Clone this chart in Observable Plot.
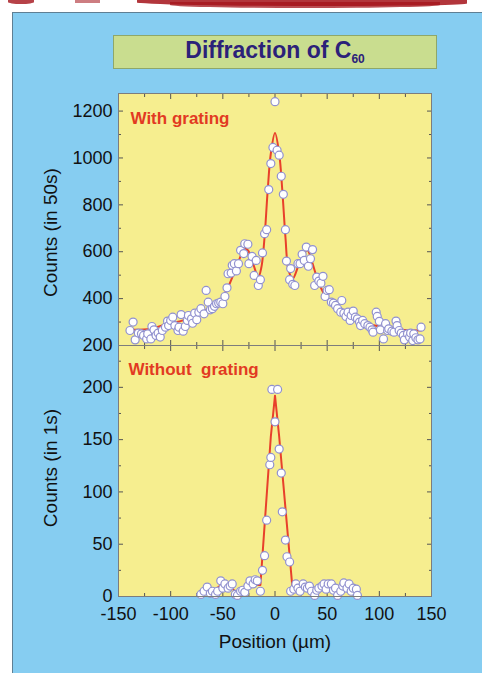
<!DOCTYPE html>
<html><head><meta charset="utf-8">
<script src="https://cdn.jsdelivr.net/npm/d3@7"></script>
<script src="https://cdn.jsdelivr.net/npm/@observablehq/plot@0.6"></script>
<style>
html,body{margin:0;padding:0;background:#fff;}
#root{position:relative;width:482px;height:673px;overflow:hidden;font-family:"Liberation Sans",Arial,sans-serif;}
#bg{position:absolute;left:12px;top:12px;width:480px;height:680px;background:#86cdf1;border-left:1px solid #5f7f93;border-top:1px solid #5f7f93;}
#title{position:absolute;left:113px;top:35px;width:322px;height:28px;padding-bottom:4px;line-height:28px;background:#c9dd8f;border:1px solid #8ea76a;text-align:center;font-weight:bold;font-size:23px;color:#2b2179;}
#title span{font-size:12px;vertical-align:-5px;}
.scr{position:absolute;background:#a5141b;filter:blur(0.7px);}
.plot{position:absolute;left:0;}
</style></head>
<body><div id="root">
<div class="scr" style="left:8px;top:0;width:26px;height:4px;opacity:0.8;border-radius:0 0 50% 50%"></div>
<div class="scr" style="left:75px;top:0;width:25px;height:3px;opacity:0.55"></div>
<div class="scr" style="left:137px;top:0;width:330px;height:6px;opacity:0.85;border-radius:0 0 40% 60%"></div>
<div class="scr" style="left:170px;top:2px;width:270px;height:6px;opacity:0.75;border-radius:0 0 50% 50%"></div>
<div id="bg"></div>
<div id="title">Diffraction of C<span>60</span></div>
</div>
<script>
// ---- data ----
const topX = [-139,-136,-134,-131,-128,-126,-123,-122,-119,-118,-116,-114,-112,-110,-108,-105,-103,-102,-100,-98,-96,-93,-92,-90,-88,-86,-84,-83,-80,-79,-77,-75,-73,-71,-68,-66,-64,-62,-60,-58,-56,-54,-52,-50,-48,-46,-45,-42,-41,-39,-37,-35,-33,-30,-29,-26,-25,-22,-20,-18,-16,-14,-12,-10,-8,-6,-4,-2,0,2,4,6,8,10,11,14,15,17,19,22,24,26,28,30,32,34,36,38,40,42,44,46,48,50,52,54,56,58,60,63,64,66,68,70,72,73,75,77,79,81,82,84,86,89,91,93,94,97,98,100,101,104,106,108,109,112,114,116,117,119,121,123,124,127,129,130,132,133,135,137,139,140];
const topY = [264,300,224,253,250,243,228,250,228,281,267,243,253,236,264,278,304,285,307,321,285,264,278,332,261,281,307,328,314,295,338,310,342,357,335,435,385,352,357,367,378,381,385,378,409,446,506,509,542,549,518,549,606,592,634,632,549,580,499,563,456,481,595,677,694,865,976,1045,1240,1033,1012,922,845,694,560,481,528,461,456,549,549,589,563,620,538,570,609,456,492,475,466,495,409,435,438,385,381,371,357,342,392,338,324,342,307,328,347,321,314,300,285,307,293,285,278,267,257,342,324,303,267,228,293,264,271,261,257,304,285,264,253,243,224,250,236,253,221,250,233,224,228,278];
const topFitX = [-139,-119,-103,-88,-71,-55,-45,-39,-32,-30,-26,-21,-16,-13,-10,-7,-4,0,4,7,10,13,17,22,26,31,36,41,47,57,73,89,105,121,140];
const topFitY = [267,271,293,307,342,378,449,513,592,613,606,549,492,535,663,862,1019,1107,1019,862,663,521,485,535,577,606,549,478,421,371,321,293,278,267,264];

const botX = [-71,-68,-65,-62,-60,-57,-55,-52,-50,-48,-45,-43,-41,-38,-36,-33,-31,-29,-26,-24,-21,-19,-17,-14,-12,-10,-8,-5,-4,-3,0,2.5,4,6,7,10,11.5,14,15,18,20,22,24,27,29,31,33,35,38,40,42,45,47,49,51,54,56,58,60,63,65,66,69,71,73,75,78,79];
const botY = [2,5,9,3,5,2,5,15,8,12,8,10,12,2,1,5,6,4,10,15,12,16,15,5,25,39,73,126,133,198,167,198,141,118,81,54,38,33,5,7,12,8,5,12,9,8,10,5,1,6,8,10,12,7,12,12,6,8,1,5,10,13,8,12,5,8,7,1];
const botFitX = [-69,-64,-58,-53,-47,-41,-37,-33,-26,-23,-17,-14,-4,0,4,17,22,28,34,39,44,52,57,63,70,76,79];
const botFitY = [2,6,6,10,10,8,3,6,7,12,11,11,153,192,153,5,8,8,7,3,7,10,6,8,7,7,4];

const xMajor = [-150,-100,-50,0,50,100,150];
const xTickLabels = ["-150","-100","-50","0","50","100","150"];
const xMinor = [-125,-75,-25,25,75,125];
const topYMajor = [200,400,600,800,1000,1200];
const topYTickLabels = ["200","400","600","800","1000","1200"];
const topYMinor = [300,500,700,900,1100];
const botYMajor = [0,50,100,150,200];
const botYTickLabels = ["0","50","100","150","200"];
const botYMinor = [25,75,125,175,225];

const topLabel = "With grating";
const botLabel = "Without\u00a0\u00a0grating";
const topTitle = "Counts (in 50s)";
const botTitle = "Counts (in 1s)";
const xTitle = "Position (µm)";

// ---- styles ----
const FONT = "Liberation Sans, Arial, sans-serif";
const YELLOW = "#f6ee8f", FRAME = "#7d7d7d", TICK = "#555";
const RED = "#e8402b", TXTRED = "#e23a22", DOTSTROKE = "#9191cf";

const pts = (xs, ys) => xs.map((x, i) => ({x, y: ys[i]}));
const fmt = (vals, labels) => d => labels[vals.indexOf(d)];

function tickMarks(yMajor, yMinor) {
  const o = {fill: "none", stroke: TICK};
  return [
    Plot.axisX({...o, ticks: xMajor, anchor: "top", tickSize: -5}),
    Plot.axisX({...o, ticks: xMinor, anchor: "top", tickSize: -3}),
    Plot.axisX({...o, ticks: xMajor, anchor: "bottom", tickSize: -5}),
    Plot.axisX({...o, ticks: xMinor, anchor: "bottom", tickSize: -3}),
    Plot.axisY({...o, ticks: yMajor, anchor: "left", tickSize: -5}),
    Plot.axisY({...o, ticks: yMinor, anchor: "left", tickSize: -3}),
    Plot.axisY({...o, ticks: yMajor, anchor: "right", tickSize: -5}),
    Plot.axisY({...o, ticks: yMinor, anchor: "right", tickSize: -3})
  ];
}

const common = {
  width: 482, marginLeft: 118, marginRight: 51,
  style: {background: "transparent", fontFamily: FONT, overflow: "visible"}
};

const topPlot = Plot.plot({
  ...common, height: 265, marginTop: 13, marginBottom: 0,
  x: {domain: [-150, 150]},
  y: {domain: [200, 1275]},
  marks: [
    Plot.frame({fill: YELLOW, stroke: "none"}),
    ...tickMarks(topYMajor, topYMinor),
    Plot.axisY({ticks: topYMajor, anchor: "left", tickSize: 0, tickPadding: 6, label: null, fontSize: 18, fill: "#111",
      tickFormat: fmt(topYMajor, topYTickLabels)}),
    Plot.line(pts(topFitX, topFitY), {x: "x", y: "y", stroke: RED, strokeWidth: 2, curve: "catmull-rom"}),
    Plot.dot(pts(topX, topY), {x: "x", y: "y", r: 4, fill: "white", stroke: DOTSTROKE, strokeWidth: 1.2}),
    Plot.text([topLabel], {frameAnchor: "top-left", dx: 12, dy: 30, lineAnchor: "bottom", textAnchor: "start", fill: TXTRED, fontSize: 17, fontWeight: "bold"}),
    Plot.text([topTitle], {frameAnchor: "left", dx: -62, dy: 13, rotate: -90, lineAnchor: "bottom", textAnchor: "middle", fontSize: 19, fill: "#111"}),
    Plot.frame({stroke: FRAME})
  ]
});

const botPlot = Plot.plot({
  ...common, height: 328, marginTop: 0, marginBottom: 77,
  x: {domain: [-150, 150]},
  y: {domain: [0, 240]},
  marks: [
    Plot.frame({fill: YELLOW, stroke: "none"}),
    ...tickMarks(botYMajor, botYMinor),
    Plot.axisY({ticks: botYMajor, anchor: "left", tickSize: 0, tickPadding: 6, label: null, fontSize: 18, fill: "#111",
      tickFormat: fmt(botYMajor, botYTickLabels)}),
    Plot.axisX({ticks: xMajor, anchor: "bottom", tickSize: 0, tickPadding: 11, label: null, fontSize: 18, fill: "#111",
      tickFormat: fmt(xMajor, xTickLabels)}),
    Plot.line(pts(botFitX, botFitY), {x: "x", y: "y", stroke: RED, strokeWidth: 2}),
    Plot.dot(pts(botX, botY), {x: "x", y: "y", r: 4, fill: "white", stroke: DOTSTROKE, strokeWidth: 1.2}),
    Plot.text([botLabel], {frameAnchor: "top-left", dx: 10, dy: 29, lineAnchor: "bottom", textAnchor: "start", fill: TXTRED, fontSize: 17, fontWeight: "bold"}),
    Plot.text([botTitle], {frameAnchor: "left", dx: -62, dy: -3, rotate: -90, lineAnchor: "bottom", textAnchor: "middle", fontSize: 19, fill: "#111"}),
    Plot.text([xTitle], {frameAnchor: "bottom", dy: 51, lineAnchor: "bottom", textAnchor: "middle", fontSize: 19, fill: "#111"}),
    Plot.frame({stroke: FRAME})
  ]
});

const root = document.getElementById("root");
topPlot.classList.add("plot"); topPlot.style.top = "80px";
botPlot.classList.add("plot"); botPlot.style.top = "345px";
root.appendChild(topPlot);
root.appendChild(botPlot);
</script>
</body></html>
